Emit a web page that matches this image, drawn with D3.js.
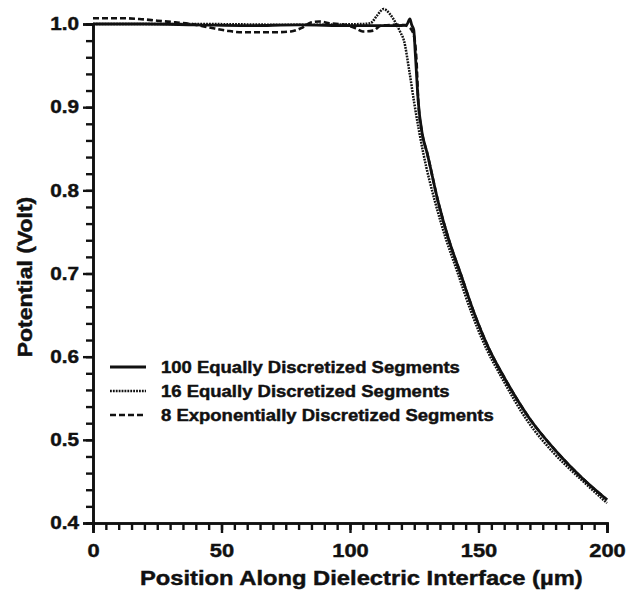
<!DOCTYPE html>
<html lang="en">
<head>
<meta charset="UTF-8">
<title>Potential along dielectric interface</title>
<script src="https://d3js.org/d3.v7.min.js"></script>
<style>
  body { margin: 0; background: #fff; }
  text { font-family: "Liberation Sans", Arial, sans-serif; font-weight: bold; fill: #111; }
</style>
</head>
<body>
<div id="chart"></div>
<script>
    // 100 equally discretized segments (solid)
    var xSolid = [0, 20, 40, 60, 80, 100, 110, 118, 122, 123.3, 124, 124.8, 125.4, 126.6, 128, 130,
                  134.4, 138.5, 143, 148, 154, 160, 170, 180, 190, 200];
    var ySolid = [1.0, 1.0, 0.999, 0.998, 0.999, 0.998, 0.998, 0.998, 0.999, 1.006, 0.999, 0.993, 0.965, 0.905, 0.87, 0.845,
                  0.785, 0.74, 0.70, 0.655, 0.61, 0.575, 0.525, 0.487, 0.455, 0.428];

    // 16 equally discretized segments (dotted)
    var xDotted = [0, 40, 80, 105, 108, 110.5, 113, 115.5, 118, 119.6, 121, 123, 125, 128.5, 133.2, 137.5,
                   142, 147, 153, 159, 169, 179, 190, 200];
    var yDotted = [1.0, 1.0, 0.999, 1.0, 1.001, 1.01, 1.018, 1.012, 1.0, 0.99, 0.98, 0.945, 0.905, 0.845, 0.785, 0.74,
                   0.70, 0.655, 0.61, 0.575, 0.523, 0.485, 0.452, 0.424];

    // 8 exponentially discretized segments (dashed)
    var xDashed = [0, 10, 18, 25, 32, 38, 45, 52, 58, 70, 77, 81, 85, 88, 92, 98, 102, 105, 109, 112, 118, 122,
                   124.5, 125.8, 126.6, 128, 130, 134.4, 138.5, 143, 148, 154, 160, 170, 180, 190, 200];
    var yDashed = [1.007, 1.007, 1.006, 1.004, 1.002, 1.0, 0.996, 0.992, 0.99, 0.99, 0.991, 0.995, 1.002, 1.003, 1.001, 0.999, 0.995, 0.991, 0.992, 0.998, 0.999, 0.998,
                   0.99, 0.96, 0.905, 0.87, 0.845, 0.785, 0.74, 0.70, 0.655, 0.61, 0.575, 0.525, 0.487, 0.455, 0.428];

    var seriesNames = ["100 Equally Discretized Segments",
                       "16 Equally Discretized Segments",
                       "8 Exponentially Discretized Segments"];
    var xMajorTicks = [0, 50, 100, 150, 200];
    var yMajorTicks = [0.4, 0.5, 0.6, 0.7, 0.8, 0.9, 1.0];
    var xTitle = "Position Along Dielectric Interface (\u00b5m)";
    var yTitle = "Potential (Volt)";

    var w = 627;
    var h = 591;

    var svg = d3.select("#chart")
                .append("svg")
                .attr("width", w)
                .attr("height", h);

    var x = d3.scaleLinear().domain([0, 200]).range([93, 607]);
    var y = d3.scaleLinear().domain([0.4, 1.0]).range([523, 24]);

    // the scanned lettering is wider and heavier than Liberation Sans
    function widen(sel, k) {
        sel.each(function() {
            var len = this.getComputedTextLength();
            d3.select(this).attr("textLength", len * k).attr("lengthAdjust", "spacingAndGlyphs");
        });
        sel.attr("stroke", "#111").attr("stroke-width", 0.45);
    }

    function styleAxis(g) {
        g.select(".domain").attr("stroke", "#111").attr("stroke-width", 2.6);
        g.selectAll(".tick line").attr("stroke", "#111").attr("stroke-width", 2.4);
        g.selectAll("text").attr("fill", "#111")
         .style("font-family", "'Liberation Sans', Arial, sans-serif").style("font-weight", "bold");
    }

    // minor ticks
    svg.append("g")
       .attr("transform", "translate(0," + y(0.4) + ")")
       .call(d3.axisBottom(x).tickValues(d3.range(0, 201, 5)).tickSize(7).tickFormat(""))
       .call(styleAxis);
    svg.append("g")
       .attr("transform", "translate(" + x(0) + ",0)")
       .call(d3.axisLeft(y).tickValues(d3.range(0, 31).map(function(i) { return 0.4 + i * 0.02; })).tickSize(7).tickFormat(""))
       .call(styleAxis);

    // major ticks with labels
    var xAxis = svg.append("g")
       .attr("transform", "translate(0," + y(0.4) + ")")
       .call(d3.axisBottom(x).tickValues(xMajorTicks).tickSize(10).tickPadding(10).tickFormat(d3.format("d")))
       .call(styleAxis);
    xAxis.selectAll("text").attr("font-size", 19).attr("dy", "0.75em").call(widen, 1.15);

    var yAxis = svg.append("g")
       .attr("transform", "translate(" + x(0) + ",0)")
       .call(d3.axisLeft(y).tickValues(yMajorTicks).tickSize(10).tickPadding(4).tickFormat(d3.format(".1f")))
       .call(styleAxis);
    yAxis.selectAll("text").attr("font-size", 18).call(widen, 1.15);

    var line = d3.line()
                 .x(function(d) { return x(d[0]); })
                 .y(function(d) { return y(d[1]); })
                 .curve(d3.curveMonotoneX);

    var styles = [
        { dash: null, width: 2.8 },
        { dash: "1.8,1.1", width: 2.5 },
        { dash: "6,3", width: 2.6 }
    ];
    var series = [
        d3.zip(xSolid, ySolid),
        d3.zip(xDotted, yDotted),
        d3.zip(xDashed, yDashed)
    ];

    // dashed first, then dotted, then solid on top
    [2, 1, 0].forEach(function(i) {
        svg.append("path")
           .datum(series[i])
           .attr("fill", "none")
           .attr("stroke", "#111")
           .attr("stroke-width", styles[i].width)
           .attr("stroke-dasharray", styles[i].dash)
           .attr("d", line);
    });

    // legend
    var legend = svg.append("g").attr("transform", "translate(110,367)");
    seriesNames.forEach(function(name, i) {
        var row = legend.append("g").attr("transform", "translate(0," + (i * 24) + ")");
        row.append("line")
           .attr("x1", 0).attr("x2", 36)
           .attr("stroke", "#111")
           .attr("stroke-width", styles[i].width)
           .attr("stroke-dasharray", styles[i].dash);
        row.append("text")
           .attr("x", 51)
           .attr("dy", "0.36em")
           .attr("font-size", 16.5)
           .text(name)
           .call(widen, 1.12);
    });

    // axis titles
    svg.append("text")
       .attr("x", 140)
       .attr("y", 585)
       .attr("font-size", 21)
       .text(xTitle)
       .call(widen, 1.13);

    svg.append("text")
       .attr("transform", "translate(32,277) rotate(-90)")
       .attr("text-anchor", "middle")
       .attr("font-size", 20)
       .text(yTitle)
       .call(widen, 1.15);
</script>
</body>
</html>
